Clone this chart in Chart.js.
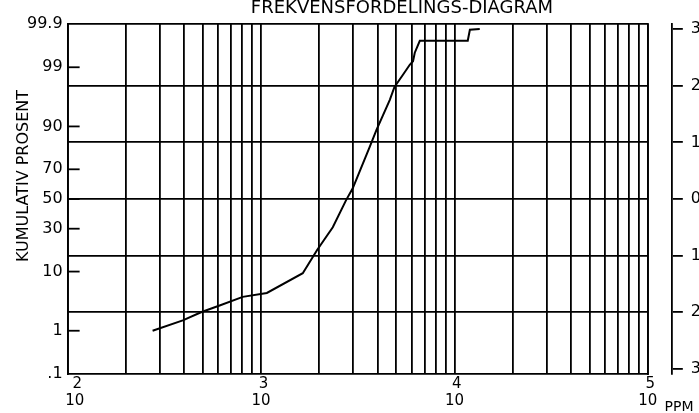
<!DOCTYPE html>
<html>
<head>
<meta charset="utf-8">
<title>Frekvensfordelings-diagram</title>
<script src="https://cdn.jsdelivr.net/npm/chart.js@4.4.1/dist/chart.umd.min.js"></script>
<style>
  html, body { margin: 0; padding: 0; background: #fff; overflow: hidden; }
  #wrap { position: relative; width: 720px; height: 413px; }
</style>
</head>
<body>
<div id="wrap"><canvas id="chart"></canvas></div>
<script>
"use strict";

// Curve: concentration (ppm) vs cumulative percent
var ppm = [275, 394, 493, 611, 804, 1072, 1644, 1950, 2350, 2754, 2980, 3648, 3954, 4634,
           4898, 5408, 5875, 6109, 6237, 6622, 11720, 12020, 13520];
var cumPercent = [1.0, 1.6, 2.3, 3.0, 4.2, 4.85, 9.5, 18.4, 30.9, 49.2, 57.5, 82.1, 88.9, 96.0,
                  97.6, 98.57, 99.11, 99.25, 99.51, 99.74, 99.74, 99.86, 99.865];

// Axis ticks
var probTicks = [0.1, 1, 10, 30, 50, 70, 90, 99, 99.9];
var probLabels = ['.1', '1', '10', '30', '50', '70', '90', '99', '99.9'];
var sigmaTicks = [-3, -2, -1, 0, 1, 2, 3];
var sigmaLabels = ['3', '2', '1', '0', '1', '2', '3'];
var xMin = 100, xMax = 100000;

var FONT = '"DejaVu Sans", sans-serif';
var LINE_W = 1.8;

// inverse normal cdf (Acklam), percent in -> sigma out
function probit(pct) {
    var p = pct / 100;
    var a = [-3.969683028665376e+01, 2.209460984245205e+02, -2.759285104469687e+02, 1.383577518672690e+02, -3.066479806614716e+01, 2.506628277459239e+00];
    var b = [-5.447609879822406e+01, 1.615858368580409e+02, -1.556989798598866e+02, 6.680131188771972e+01, -1.328068155288572e+01];
    var c = [-7.784894002430293e-03, -3.223964580411365e-01, -2.400758277161838e+00, -2.549732539343734e+00, 4.374664141464968e+00, 2.938163982698783e+00];
    var d = [7.784695709041462e-03, 3.224671290700398e-01, 2.445134137142996e+00, 3.754408661907416e+00];
    var plow = 0.02425, q, r;
    if (p < plow) {
        q = Math.sqrt(-2 * Math.log(p));
        return (((((c[0] * q + c[1]) * q + c[2]) * q + c[3]) * q + c[4]) * q + c[5]) / ((((d[0] * q + d[1]) * q + d[2]) * q + d[3]) * q + 1);
    }
    if (p > 1 - plow) {
        q = Math.sqrt(-2 * Math.log(1 - p));
        return -(((((c[0] * q + c[1]) * q + c[2]) * q + c[3]) * q + c[4]) * q + c[5]) / ((((d[0] * q + d[1]) * q + d[2]) * q + d[3]) * q + 1);
    }
    q = p - 0.5;
    r = q * q;
    return (((((a[0] * r + a[1]) * r + a[2]) * r + a[3]) * r + a[4]) * r + a[5]) * q / (((((b[0] * r + b[1]) * r + b[2]) * r + b[3]) * r + b[4]) * r + 1);
}

var zMin = probit(probTicks[0]);
var zMax = probit(probTicks[probTicks.length - 1]);

// log grid: 1..9 in every decade
var xGrid = [];
for (var e = 2; e < 5; e++) {
    for (var m = 1; m < 10; m++) xGrid.push(m * Math.pow(10, e));
}
xGrid.push(xMax);

var points = ppm.map(function (v, i) {
    return {x: v, y: probit(cumPercent[i])};
});

// Inward ticks on the left axis + free texts
var extras = {
    id: 'extras',
    afterDraw: function (chart) {
        var ctx = chart.ctx, area = chart.chartArea, ys = chart.scales.y;
        ctx.save();
        ctx.strokeStyle = '#000';
        ctx.lineWidth = LINE_W;
        ys.ticks.forEach(function (t, i) {
            if (i === 0 || i === ys.ticks.length - 1) return;
            var py = ys.getPixelForValue(t.value);
            ctx.beginPath();
            ctx.moveTo(area.left, py);
            ctx.lineTo(area.left + 12, py);
            ctx.stroke();
        });
        ctx.fillStyle = '#000';
        ctx.textAlign = 'center';
        ctx.textBaseline = 'alphabetic';
        ctx.font = '18px ' + FONT;
        ctx.fillText('FREKVENSFORDELINGS-DIAGRAM', 402, 13);
        ctx.font = '14px ' + FONT;
        ctx.fillText('PPM', 679, 411);
        ctx.translate(24, 176);
        ctx.rotate(-Math.PI / 2);
        ctx.textBaseline = 'middle';
        ctx.font = '16px ' + FONT;
        ctx.fillText('KUMULATIV PROSENT', 0, 0);
        ctx.restore();
    }
};

var ctx = document.getElementById('chart').getContext('2d');
var chart = new Chart(ctx, {
    type: 'line',
    data: {
        datasets: [{
            data: points,
            borderColor: '#000',
            borderWidth: 2,
            pointRadius: 0,
            tension: 0,
            fill: false
        }]
    },
    options: {
        responsive: true,
        maintainAspectRatio: false,
        animation: false,
        events: [],
        layout: {padding: {left: 22, right: 11, top: 24, bottom: 2}},
        plugins: {legend: {display: false}, tooltip: {enabled: false}},
        scales: {
            x: {
                type: 'logarithmic',
                position: 'bottom',
                min: xMin,
                max: xMax,
                afterBuildTicks: function (s) {
                    s.ticks = xGrid.map(function (v) { return {value: v}; });
                },
                grid: {color: '#000', lineWidth: LINE_W, drawTicks: false},
                border: {color: '#000', width: LINE_W},
                ticks: {
                    color: '#000',
                    autoSkip: false,
                    maxRotation: 0,
                    padding: 2,
                    font: {family: FONT, size: 15, lineHeight: 1.1},
                    callback: function (value) {
                        var p = Math.round(Math.log10(value));
                        if (Math.abs(value - Math.pow(10, p)) > 1e-6 * value) return '';
                        // the first decade label sits a little right of its line
                        return p === 2 ? ['    ' + p, '   10'] : [' ' + p, '10'];
                    }
                }
            },
            xTop: {
                type: 'logarithmic',
                position: 'top',
                min: xMin,
                max: xMax,
                grid: {drawOnChartArea: false, drawTicks: false},
                border: {color: '#000', width: LINE_W},
                ticks: {display: false}
            },
            y: {
                type: 'linear',
                position: 'left',
                min: zMin,
                max: zMax,
                afterBuildTicks: function (s) {
                    s.ticks = probTicks.map(function (p) { return {value: probit(p)}; });
                },
                grid: {drawOnChartArea: false, drawTicks: false},
                border: {color: '#000', width: LINE_W},
                ticks: {
                    color: '#000',
                    autoSkip: false,
                    padding: 5,
                    font: {family: FONT, size: 16},
                    callback: function (v, i) { return probLabels[i]; }
                }
            },
            yEdge: {
                type: 'linear',
                position: 'right',
                min: zMin,
                max: zMax,
                grid: {drawOnChartArea: false, drawTicks: true, tickLength: 24, tickColor: 'rgba(0,0,0,0)'},
                border: {color: '#000', width: LINE_W},
                ticks: {display: false}
            },
            z: {
                type: 'linear',
                position: 'right',
                min: zMin,
                max: zMax,
                afterBuildTicks: function (s) {
                    s.ticks = sigmaTicks.map(function (v) { return {value: v}; });
                },
                grid: {
                    color: function (c) {
                        return c.tick && Math.abs(c.tick.value) === 3 ? 'rgba(0,0,0,0)' : '#000';
                    },
                    lineWidth: LINE_W,
                    drawTicks: true,
                    tickLength: 11,
                    tickColor: '#000',
                    tickWidth: LINE_W
                },
                border: {color: '#000', width: LINE_W},
                ticks: {
                    color: '#000',
                    autoSkip: false,
                    padding: 8,
                    font: {family: FONT, size: 16},
                    callback: function (v, i) { return sigmaLabels[i]; }
                }
            }
        }
    },
    plugins: [extras]
});
</script>
</body>
</html>
